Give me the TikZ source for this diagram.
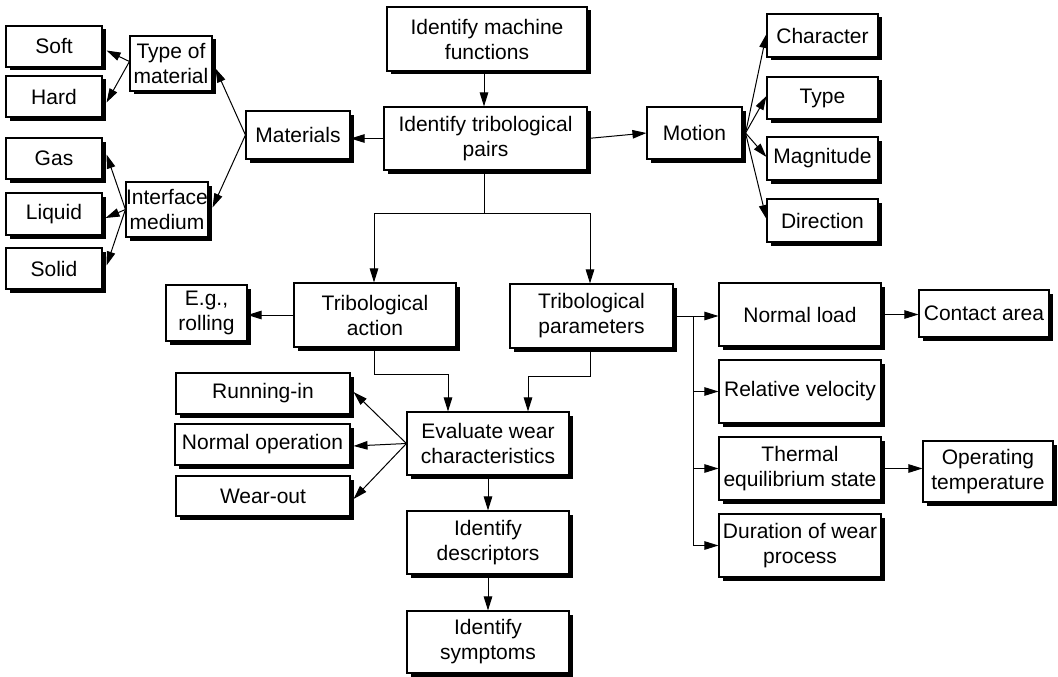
\documentclass[tikz,border=0pt]{standalone}
\usepackage{fontspec}
\setmainfont{Liberation Sans}
\usetikzlibrary{arrows.meta,shadows}
\begin{document}
\begin{tikzpicture}[x=1pt,y=-1pt,
  box/.style={draw, fill=white, line width=1.1pt, inner sep=0pt, align=center,
    font=\fontsize{21}{25}\selectfont,
    drop shadow={shadow xshift=3.5pt, shadow yshift=-3.5pt, fill=black, opacity=1}},
  link/.style={line width=1pt, -{Triangle[length=14pt,width=8.5pt]}},
  plain/.style={line width=1pt}]
\useasboundingbox (0,0) rectangle (1058,677);

% material branch
\node[box, minimum width=96, minimum height=41] (soft) at (54,46.5) {Soft};
\node[box, minimum width=96, minimum height=41] (hard) at (54,96.5) {Hard};
\node[box, minimum width=82, minimum height=55] (typemat) at (171,63.5) {Type of\\material};
\node[box, minimum width=104, minimum height=48] (materials) at (298,135) {Materials};
\node[box, minimum width=96, minimum height=41] (gas) at (54,158.5) {Gas};
\node[box, minimum width=96, minimum height=42] (liquid) at (54,214) {Liquid};
\node[box, minimum width=96, minimum height=41] (solid) at (54,268.5) {Solid};
\node[box, minimum width=82, minimum height=55] (interface) at (167,209.5) {Interface\\medium};

% central column
\node[box, minimum width=200, minimum height=64] (machine) at (487,39) {Identify machine\\functions};
\node[box, minimum width=203, minimum height=63] (pairs) at (485.5,138.5) {Identify tribological\\pairs};

% motion branch
\node[box, minimum width=95, minimum height=52] (motion) at (694.5,133) {Motion};
\node[box, minimum width=111, minimum height=43] (character) at (822.5,35.5) {Character};
\node[box, minimum width=111, minimum height=42] (type) at (822.5,98) {Type};
\node[box, minimum width=111, minimum height=43] (magnitude) at (822.5,158.5) {Magnitude};
\node[box, minimum width=111, minimum height=43] (direction) at (822.5,220.5) {Direction};

% action and parameters
\node[box, minimum width=81, minimum height=56] (eg) at (206.5,313) {E.g.,\\rolling};
\node[box, minimum width=162, minimum height=64] (action) at (375,315) {Tribological\\action};
\node[box, minimum width=163, minimum height=64] (params) at (591.5,316) {Tribological\\parameters};
\node[box, minimum width=162, minimum height=63] (load) at (800,314.5) {Normal load};
\node[box, minimum width=130, minimum height=47] (contact) at (984,313.5) {Contact area};
\node[box, minimum width=162, minimum height=63] (velocity) at (800,391.5) {Relative velocity};
\node[box, minimum width=162, minimum height=63] (thermal) at (800,468.5) {Thermal\\equilibrium state};
\node[box, minimum width=130, minimum height=61] (optemp) at (988,471.5) {Operating\\temperature};
\node[box, minimum width=162, minimum height=63] (duration) at (800,545.5) {Duration of wear\\process};

% wear evaluation
\node[box, minimum width=174, minimum height=41] (running) at (263,393.5) {Running-in};
\node[box, minimum width=175, minimum height=41] (normalop) at (262.5,444.5) {Normal operation};
\node[box, minimum width=174, minimum height=40] (wearout) at (263,496) {Wear-out};
\node[box, minimum width=162, minimum height=63] (evaluate) at (488,443.5) {Evaluate wear\\characteristics};
\node[box, minimum width=162, minimum height=63] (descriptors) at (488,542.5) {Identify\\descriptors};
\node[box, minimum width=162, minimum height=62] (symptoms) at (488,642) {Identify\\symptoms};

% junction points
\coordinate (split) at (484,213);
\coordinate (actdown) at (374,374);
\coordinate (pardown) at (590,376);
\coordinate (bus) at (693,316);

% connectors
\draw[link] (machine.south -| split) -- (pairs.north -| split);
\draw[link] (pairs.west) -- (pairs.west -| materials.east);
\draw[link] (pairs.east) -- (motion.west);

\draw[link] (materials.west) -- ([xshift=3pt,yshift=-5pt]typemat.east);
\draw[link] (materials.west) -- ([xshift=4pt,yshift=2pt]interface.east);
\draw[link] ([yshift=2pt]typemat.west) -- ([xshift=4pt,yshift=-4pt]soft.east);
\draw[link] ([yshift=2pt]typemat.west) -- ([xshift=4pt,yshift=-6pt]hard.east);
\draw[link] (interface.west) -- ([xshift=4pt,yshift=4pt]gas.east);
\draw[link] (interface.west) -- ([xshift=3pt,yshift=-4pt]liquid.east);
\draw[link] (interface.west) -- ([xshift=4pt,yshift=3pt]solid.east);

\draw[link] ([xshift=3pt]motion.east) -- ([yshift=1.5pt]character.west);
\draw[link] ([xshift=3pt]motion.east) -- ([yshift=2pt]type.west);
\draw[link] ([xshift=3pt]motion.east) -- ([yshift=1.5pt]magnitude.west);
\draw[link] ([xshift=3pt]motion.east) -- ([yshift=1.5pt]direction.west);

\draw[plain] (pairs.south -| split) -- (split);
\draw[link] (split) -| (action.north -| actdown);
\draw[link] (split) -| (params.north -| pardown);

\draw[link] (action.west) -- (action.west -| eg.east);

\draw[link] (action.south -| actdown) -- (actdown) -| ([xshift=-40pt]evaluate.north);
\draw[link] (params.south -| pardown) -- (pardown) -| ([xshift=40pt]evaluate.north);

\draw[link] (evaluate.west) -- ([xshift=3pt,yshift=1.5pt]running.east);
\draw[link] (evaluate.west) -- ([xshift=3pt,yshift=-1.5pt]normalop.east);
\draw[link] (evaluate.west) -- ([xshift=3pt,yshift=-3pt]wearout.east);
\draw[link] (evaluate.south) -- (descriptors.north);
\draw[link] (descriptors.south) -- (symptoms.north);

\draw[link] (params.east) -- (params.east -| load.west);
\draw[plain] (bus) -- (bus |- duration.west);
\draw[link] (bus) |- (velocity.west);
\draw[link] (bus) |- (thermal.west);
\draw[link] (bus) |- (duration.west);
\draw[link] (load.east) -- (load.east -| contact.west);
\draw[link] (thermal.east) -- (thermal.east -| optemp.west);
\end{tikzpicture}
\end{document}
